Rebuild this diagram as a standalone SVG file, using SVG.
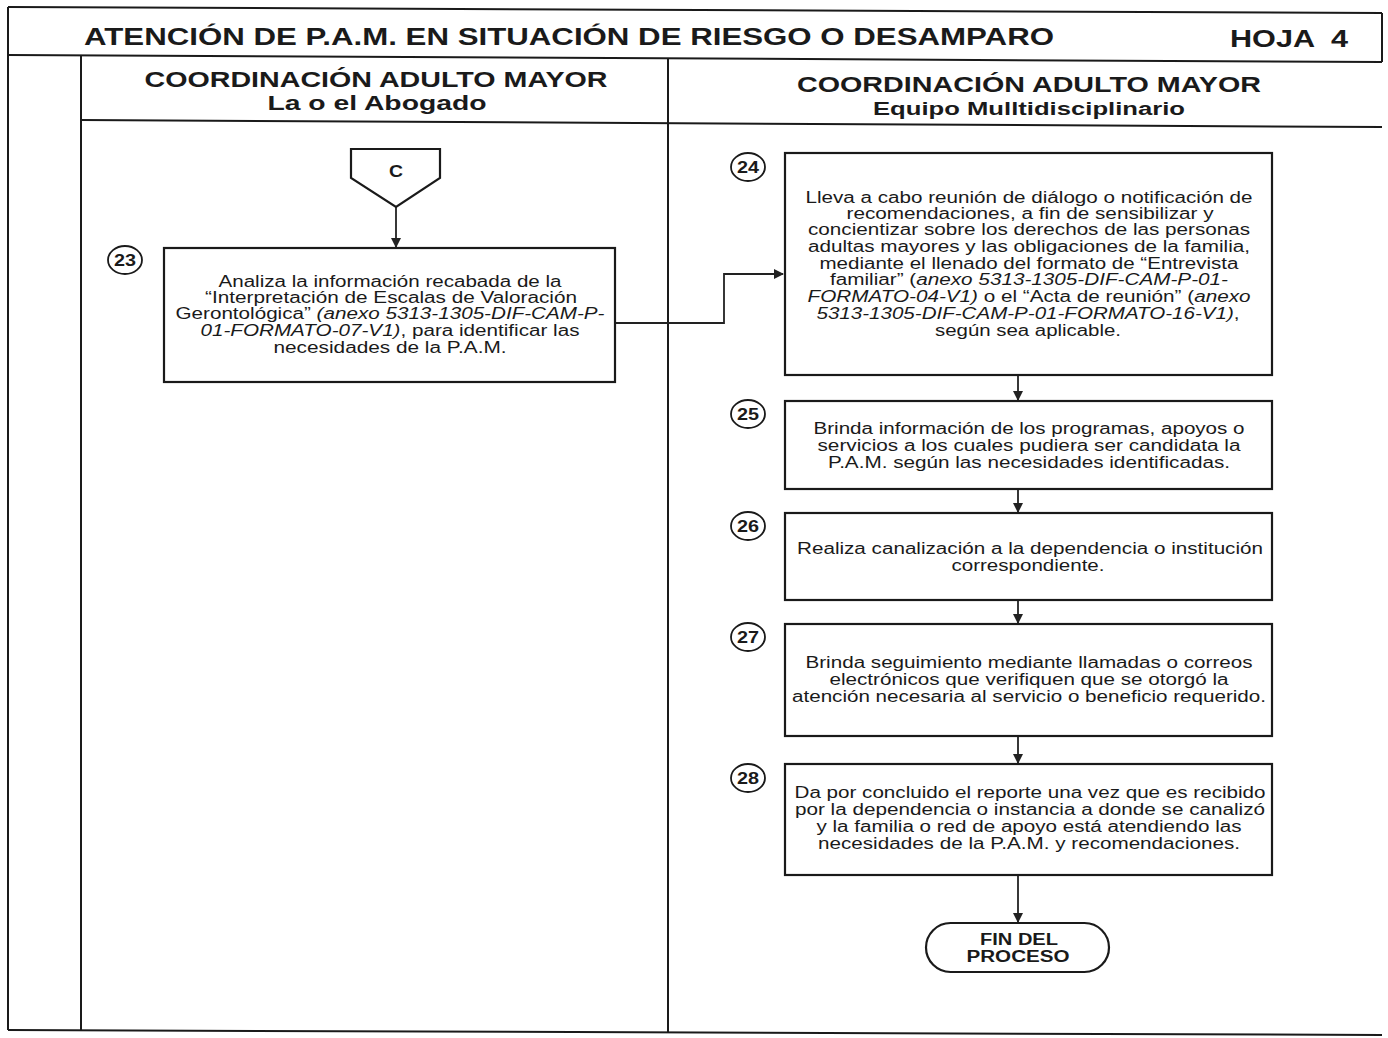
<svg xmlns="http://www.w3.org/2000/svg" width="1388" height="1038" viewBox="0 0 1388 1038">
<defs>
<marker id="ah" markerWidth="10" markerHeight="10" refX="9" refY="5" orient="auto" markerUnits="userSpaceOnUse">
<path d="M0,0 L10,5 L0,10 Z" fill="#222"/>
</marker>
<style>
.frame{fill:none;stroke:#1a1a1a;stroke-width:2}
.box{fill:#fff;stroke:#1a1a1a;stroke-width:2.2}
.num{fill:#fff;stroke:#1a1a1a;stroke-width:1.8}
.conn{fill:none;stroke:#222;stroke-width:1.8}
.t{font-family:"Liberation Sans",Arial,sans-serif;font-size:16px;fill:#1a1a1a;text-anchor:middle}
.n{font-family:"Liberation Sans",Arial,sans-serif;font-size:16px;font-weight:bold;fill:#1a1a1a;text-anchor:middle}
.h{font-family:"Liberation Sans",Arial,sans-serif;font-weight:bold;fill:#1a1a1a;text-anchor:middle}
.i{font-style:italic}
</style>
</defs>
<rect width="1388" height="1038" fill="#fff"/>
<g id="frame">
<line class="frame" x1="8" y1="7" x2="1382" y2="13"/>
<line class="frame" x1="8" y1="7" x2="8" y2="1030"/>
<line class="frame" x1="1382" y1="13" x2="1382" y2="62"/>
<line class="frame" x1="8" y1="55" x2="1382" y2="62"/>
<line class="frame" x1="81" y1="55" x2="81" y2="1030"/>
<line class="frame" x1="668" y1="58" x2="668" y2="1033"/>
<line class="frame" x1="81" y1="120" x2="1382" y2="127"/>
<line class="frame" x1="8" y1="1030" x2="1382" y2="1035"/>
<text class="h" x="569" y="45" font-size="23" textLength="970" lengthAdjust="spacingAndGlyphs">ATENCIÓN DE P.A.M. EN SITUACIÓN DE RIESGO O DESAMPARO</text>
<text class="h" x="1289" y="47" font-size="23" textLength="118" lengthAdjust="spacingAndGlyphs" xml:space="preserve">HOJA  4</text>
<text class="h" x="376" y="87" font-size="21.5" textLength="463" lengthAdjust="spacingAndGlyphs">COORDINACIÓN ADULTO MAYOR</text>
<text class="h" x="377" y="110" font-size="19.5" textLength="219" lengthAdjust="spacingAndGlyphs">La o el Abogado</text>
<text class="h" x="1029" y="92" font-size="21.5" textLength="464" lengthAdjust="spacingAndGlyphs">COORDINACIÓN ADULTO MAYOR</text>
<text class="h" x="1029" y="115" font-size="17.5" textLength="312" lengthAdjust="spacingAndGlyphs">Equipo Mulltidisciplinario</text>
</g>
<g id="connectors">
<line class="conn" x1="396" y1="207" x2="396" y2="247" marker-end="url(#ah)"/>
<polyline class="conn" points="615,323 724,323 724,274 783,274" marker-end="url(#ah)"/>
<line class="conn" x1="1018" y1="375" x2="1018" y2="400" marker-end="url(#ah)"/>
<line class="conn" x1="1018" y1="489" x2="1018" y2="512" marker-end="url(#ah)"/>
<line class="conn" x1="1018" y1="600" x2="1018" y2="623" marker-end="url(#ah)"/>
<line class="conn" x1="1018" y1="736" x2="1018" y2="763" marker-end="url(#ah)"/>
<line class="conn" x1="1018" y1="875" x2="1018" y2="922" marker-end="url(#ah)"/>
</g>
<g id="connector-C">
<path class="box" d="M351,149 L440,149 L440,178 L396,207 L351,178 Z"/>
<text class="n" x="396" y="177" font-size="16" textLength="14" lengthAdjust="spacingAndGlyphs">C</text>
</g>
<g id="step-23">
<ellipse class="num" cx="125" cy="260" rx="17" ry="14"/>
<text class="n" x="125" y="266" textLength="22" lengthAdjust="spacingAndGlyphs">23</text>
<rect class="box" x="164" y="248" width="451" height="134"/>
<text class="t" x="390" y="287" textLength="343" lengthAdjust="spacingAndGlyphs">Analiza la información recabada de la</text>
<text class="t" x="391" y="303" textLength="372" lengthAdjust="spacingAndGlyphs">“Interpretación de Escalas de Valoración</text>
<text class="t" x="390" y="319" textLength="429" lengthAdjust="spacingAndGlyphs">Gerontológica” <tspan class="i">(anexo 5313-1305-DIF-CAM-P-</tspan></text>
<text class="t" x="390" y="336" textLength="379" lengthAdjust="spacingAndGlyphs"><tspan class="i">01-FORMATO-07-V1)</tspan>, para identificar las</text>
<text class="t" x="390" y="353" textLength="233" lengthAdjust="spacingAndGlyphs">necesidades de la P.A.M.</text>
</g>
<g id="step-24">
<ellipse class="num" cx="748" cy="167" rx="17" ry="14"/>
<text class="n" x="748" y="173" textLength="22" lengthAdjust="spacingAndGlyphs">24</text>
<rect class="box" x="785" y="153" width="487" height="222"/>
<text class="t" x="1029" y="203" textLength="447" lengthAdjust="spacingAndGlyphs">Lleva a cabo reunión de diálogo o notificación de</text>
<text class="t" x="1030" y="219" textLength="367" lengthAdjust="spacingAndGlyphs">recomendaciones, a fin de sensibilizar y</text>
<text class="t" x="1029" y="235" textLength="442" lengthAdjust="spacingAndGlyphs">concientizar sobre los derechos de las personas</text>
<text class="t" x="1029" y="252" textLength="442" lengthAdjust="spacingAndGlyphs">adultas mayores y las obligaciones de la familia,</text>
<text class="t" x="1029" y="269" textLength="419" lengthAdjust="spacingAndGlyphs">mediante el llenado del formato de “Entrevista</text>
<text class="t" x="1029" y="285" textLength="398" lengthAdjust="spacingAndGlyphs">familiar” (<tspan class="i">anexo 5313-1305-DIF-CAM-P-01-</tspan></text>
<text class="t" x="1029" y="302" textLength="443" lengthAdjust="spacingAndGlyphs"><tspan class="i">FORMATO-04-V1)</tspan> o el “Acta de reunión” (<tspan class="i">anexo</tspan></text>
<text class="t" x="1028" y="319" textLength="423" lengthAdjust="spacingAndGlyphs"><tspan class="i">5313-1305-DIF-CAM-P-01-FORMATO-16-V1)</tspan>,</text>
<text class="t" x="1028" y="336" textLength="186" lengthAdjust="spacingAndGlyphs">según sea aplicable.</text>
</g>
<g id="step-25">
<ellipse class="num" cx="748" cy="414" rx="17" ry="14"/>
<text class="n" x="748" y="420" textLength="22" lengthAdjust="spacingAndGlyphs">25</text>
<rect class="box" x="785" y="401" width="487" height="88"/>
<text class="t" x="1029" y="434" textLength="431" lengthAdjust="spacingAndGlyphs">Brinda información de los programas, apoyos o</text>
<text class="t" x="1029" y="451" textLength="423" lengthAdjust="spacingAndGlyphs">servicios a los cuales pudiera ser candidata la</text>
<text class="t" x="1029" y="468" textLength="402" lengthAdjust="spacingAndGlyphs">P.A.M. según las necesidades identificadas.</text>
</g>
<g id="step-26">
<ellipse class="num" cx="748" cy="526" rx="17" ry="14"/>
<text class="n" x="748" y="532" textLength="22" lengthAdjust="spacingAndGlyphs">26</text>
<rect class="box" x="785" y="513" width="487" height="87"/>
<text class="t" x="1030" y="554" textLength="466" lengthAdjust="spacingAndGlyphs">Realiza canalización a la dependencia o institución</text>
<text class="t" x="1028" y="571" textLength="153" lengthAdjust="spacingAndGlyphs">correspondiente.</text>
</g>
<g id="step-27">
<ellipse class="num" cx="748" cy="637" rx="17" ry="14"/>
<text class="n" x="748" y="643" textLength="22" lengthAdjust="spacingAndGlyphs">27</text>
<rect class="box" x="785" y="624" width="487" height="112"/>
<text class="t" x="1029" y="668" textLength="447" lengthAdjust="spacingAndGlyphs">Brinda seguimiento mediante llamadas o correos</text>
<text class="t" x="1029" y="685" textLength="399" lengthAdjust="spacingAndGlyphs">electrónicos que verifiquen que se otorgó la</text>
<text class="t" x="1029" y="702" textLength="474" lengthAdjust="spacingAndGlyphs">atención necesaria al servicio o beneficio requerido.</text>
</g>
<g id="step-28">
<ellipse class="num" cx="748" cy="778" rx="17" ry="14"/>
<text class="n" x="748" y="784" textLength="22" lengthAdjust="spacingAndGlyphs">28</text>
<rect class="box" x="785" y="764" width="487" height="111"/>
<text class="t" x="1030" y="798" textLength="471" lengthAdjust="spacingAndGlyphs">Da por concluido el reporte una vez que es recibido</text>
<text class="t" x="1030" y="815" textLength="470" lengthAdjust="spacingAndGlyphs">por la dependencia o instancia a donde se canalizó</text>
<text class="t" x="1029" y="832" textLength="425" lengthAdjust="spacingAndGlyphs">y la familia o red de apoyo está atendiendo las</text>
<text class="t" x="1029" y="849" textLength="422" lengthAdjust="spacingAndGlyphs">necesidades de la P.A.M. y recomendaciones.</text>
</g>
<g id="end">
<rect class="box" x="926" y="923" width="183" height="49" rx="24.5" ry="24.5"/>
<text class="n" x="1019" y="945" font-size="15" textLength="78" lengthAdjust="spacingAndGlyphs">FIN DEL</text>
<text class="n" x="1018" y="962" font-size="15" textLength="103" lengthAdjust="spacingAndGlyphs">PROCESO</text>
</g>
</svg>
